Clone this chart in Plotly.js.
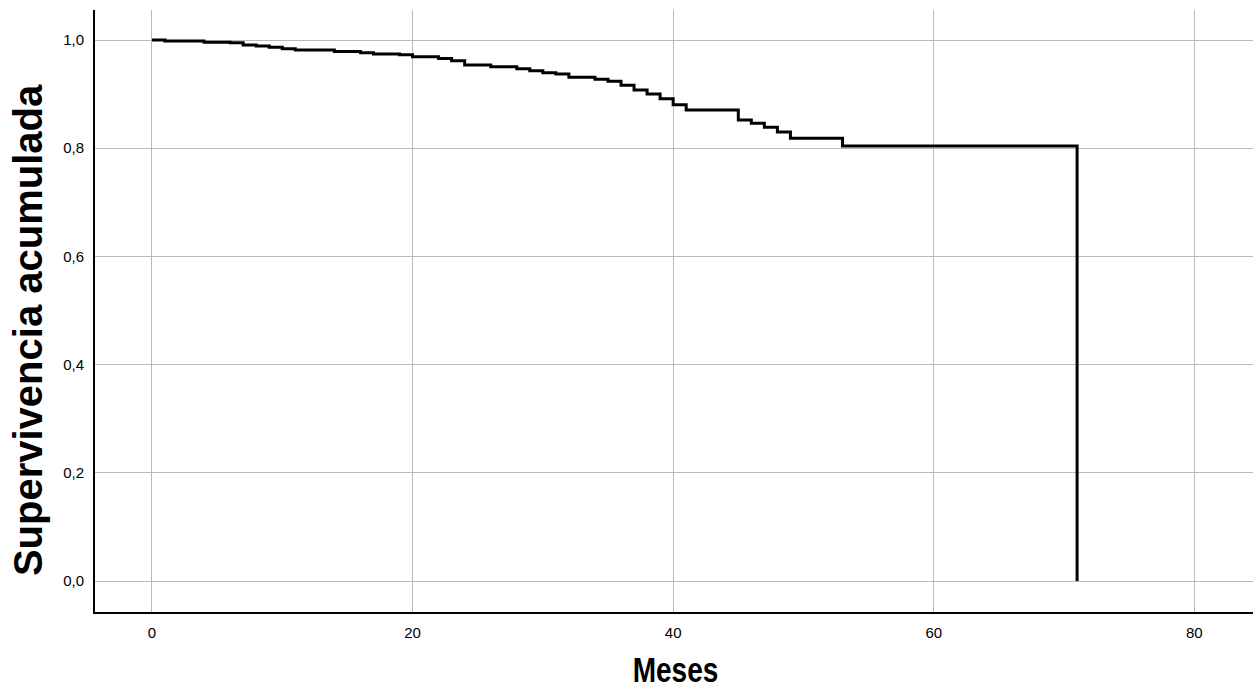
<!DOCTYPE html>
<html>
<head>
<meta charset="utf-8">
<script src="https://cdn.plot.ly/plotly-3.0.1.min.js"></script>
<style>
html,body{margin:0;padding:0;background:#fff;}
#chart{width:1253px;height:691px;}
</style>
</head>
<body>
<div id="chart"></div>
<script>
// Kaplan-Meier step data
var months = [0,1,4,6,7,8,9,10,11,14,16,17,19,20,22,23,24,26,28,29,30,31,32,34,35,36,37,38,39,40,41,45,46,47,48,49,53,71];
var survival = [1.000,0.998,0.996,0.995,0.991,0.989,0.9865,0.984,0.9815,0.979,0.9765,0.974,0.973,0.969,0.966,0.9617,0.9538,0.9506,0.947,0.9433,0.9396,0.9372,0.931,0.9273,0.9236,0.9162,0.9076,0.9002,0.8915,0.8804,0.8706,0.8521,0.846,0.8386,0.8299,0.8182,0.8041,0.0];
var xTicks = [0,20,40,60,80];
var yTicks = [0,0.2,0.4,0.6,0.8,1.0];
var xTitle = "Meses";
var yTitle = "Supervivencia acumulada";

var trace = {
  x: months,
  y: survival,
  type: 'scatter',
  mode: 'lines',
  line: {shape: 'hv', color: '#000000', width: 3},
  hoverinfo: 'x+y',
  showlegend: false
};

var baseFont = 'Liberation Sans, Arial, sans-serif';

var layout = {
  width: 1253,
  height: 691,
  margin: {l: 95, r: 0, t: 10, b: 79},
  paper_bgcolor: '#ffffff',
  plot_bgcolor: '#ffffff',
  separators: ',.',
  font: {family: baseFont, color: '#000000', size: 15},
  xaxis: {
    range: [-4.37, 84.5],
    tickvals: xTicks,
    ticktext: xTicks.map(String),
    showgrid: true,
    gridcolor: '#b9b9b9',
    gridwidth: 1,
    zeroline: false,
    showline: true,
    linecolor: '#000000',
    linewidth: 2,
    ticks: '',
    ticklabelstandoff: 6,
    tickfont: {size: 15, family: baseFont}
  },
  yaxis: {
    range: [-0.0573, 1.0555],
    tickvals: yTicks,
    tickformat: '.1f',
    showgrid: true,
    gridcolor: '#b9b9b9',
    gridwidth: 1,
    zeroline: false,
    showline: true,
    linecolor: '#000000',
    linewidth: 2,
    ticks: '',
    ticklabelstandoff: 6,
    tickfont: {size: 15, family: baseFont}
  },
  annotations: [
    {text: yTitle, xref: 'paper', yref: 'paper', x: -0.058, y: 0.468,
     xanchor: 'center', yanchor: 'middle', textangle: -90, showarrow: false,
     font: {size: 40, family: baseFont, weight: 'bold', color: '#000000'}},
    {text: xTitle, xref: 'paper', yref: 'paper', x: 0.5017, y: -0.0963,
     xanchor: 'center', yanchor: 'middle', showarrow: false,
     font: {size: 35, family: baseFont, weight: 'bold', color: '#000000'}}
  ]
};

Plotly.newPlot('chart', [trace], layout, {displayModeBar: false, staticPlot: true}).then(function (gd) {
  // the reference draws "Meses" in a condensed face: squeeze it horizontally
  var texts = gd.querySelectorAll('.annotation-text');
  texts.forEach(function (t) {
    if (t.textContent === xTitle) {
      var bb = t.getBBox();
      var cx = bb.x + bb.width / 2;
      t.setAttribute('transform', 'translate(' + cx + ',0) scale(0.8,1) translate(' + (-cx) + ',0)');
    }
  });
});
</script>
</body>
</html>
